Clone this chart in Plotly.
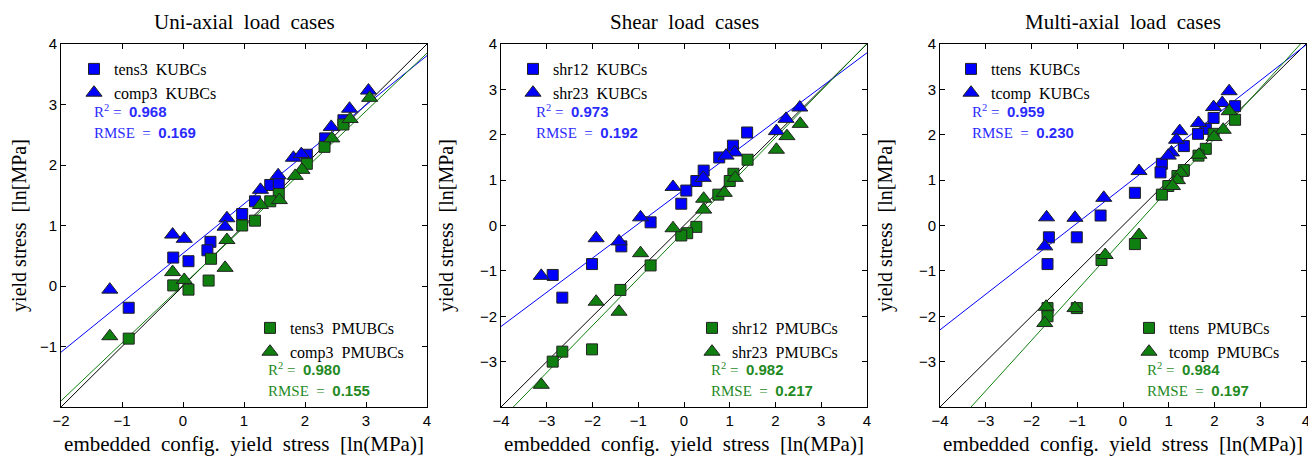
import plotly.graph_objects as go

# ---------------- data ----------------
# Panel 1: Uni-axial load cases
p1_tens3_kubc_x = [2.33, 2.63, 2.03, 1.43, 1.57, 1.18, 0.97, -0.16, 0.09, 0.45, 0.40, -0.89]
p1_tens3_kubc_y = [2.44, 2.74, 2.17, 1.67, 1.70, 1.40, 1.19, 0.47, 0.41, 0.73, 0.59, -0.36]
p1_comp3_kubc_x = [3.04, 2.73, 2.43, 1.81, 1.94, 1.56, 1.27, 0.72, 0.69, -0.17, 0.02, -1.20]
p1_comp3_kubc_y = [3.23, 2.93, 2.63, 2.12, 2.18, 1.83, 1.59, 1.12, 0.98, 0.85, 0.78, -0.06]
p1_tens3_pmubc_x = [2.63, 2.32, 2.03, 1.57, 1.43, 1.18, 0.97, 0.46, 0.42, -0.16, 0.09, -0.89]
p1_tens3_pmubc_y = [2.67, 2.30, 2.02, 1.52, 1.40, 1.08, 1.00, 0.45, 0.09, 0.01, -0.06, -0.87]
p1_comp3_pmubc_x = [3.06, 2.74, 2.44, 1.95, 1.84, 1.58, 1.27, 0.72, 0.69, -0.17, 0.02, -1.20]
p1_comp3_pmubc_y = [3.11, 2.76, 2.44, 1.92, 1.82, 1.42, 1.34, 0.76, 0.30, 0.23, 0.10, -0.83]

# Panel 2: Shear load cases
p2_shr12_kubc_x = [1.38, 1.07, 0.77, 0.43, 0.27, 0.05, -0.06, -0.73, -1.37, -2.01, -2.87, -2.66]
p2_shr12_kubc_y = [2.05, 1.76, 1.50, 1.21, 0.98, 0.77, 0.48, 0.07, -0.46, -0.85, -1.09, -1.59]
p2_shr23_kubc_x = [2.53, 2.23, 2.02, 1.11, 0.92, 0.42, -0.24, -0.95, -1.42, -1.92, -3.12]
p2_shr23_kubc_y = [2.60, 2.35, 2.08, 1.61, 1.54, 1.05, 0.85, 0.18, -0.35, -0.28, -1.11]
p2_shr12_pmubc_x = [1.39, 1.08, 1.00, 0.75, 0.27, 0.07, -0.06, -0.73, -1.39, -2.01, -2.66, -2.87]
p2_shr12_pmubc_y = [1.45, 1.14, 0.98, 0.68, -0.03, -0.17, -0.22, -0.88, -1.42, -2.73, -2.78, -3.00]
p2_shr23_pmubc_x = [2.54, 2.25, 2.02, 1.12, 0.88, 0.43, 0.43, -0.24, -0.95, -1.42, -1.92, -3.12]
p2_shr23_pmubc_y = [2.24, 1.97, 1.67, 1.05, 0.72, 0.59, 0.35, -0.06, -0.61, -1.90, -1.68, -3.51]

# Panel 3: Multi-axial load cases
p3_ttens_kubc_x = [2.45, 1.98, 1.81, 1.64, 1.33, 0.85, 0.82, 0.26, -0.49, -1.62, -1.01, -1.65]
p3_ttens_kubc_y = [2.63, 2.37, 2.13, 2.02, 1.75, 1.36, 1.17, 0.72, 0.22, -0.26, -0.26, -0.85]
p3_tcomp_kubc_x = [2.32, 2.17, 1.98, 1.65, 1.24, 1.17, 1.06, 0.99, 0.35, -0.42, -1.05, -1.67, -1.71]
p3_tcomp_kubc_y = [2.96, 2.70, 2.61, 2.26, 2.08, 1.89, 1.61, 1.54, 1.20, 0.61, 0.17, 0.18, -0.46]
p3_ttens_pmubc_x = [2.45, 1.98, 1.81, 1.65, 1.33, 1.19, 0.99, 0.85, 0.26, -0.47, -1.01, -1.65, -1.65]
p3_ttens_pmubc_y = [2.33, 2.02, 1.69, 1.54, 1.22, 1.09, 0.87, 0.68, -0.41, -0.76, -1.82, -1.82, -2.00]
p3_tcomp_pmubc_x = [2.32, 2.19, 1.99, 1.66, 1.26, 1.19, 1.08, 0.35, -0.39, -1.05, -1.68, -1.71]
p3_tcomp_pmubc_y = [2.52, 2.11, 1.95, 1.56, 1.16, 1.00, 0.87, -0.21, -0.65, -1.82, -1.79, -2.15]

# linear fits (slope, intercept)
fit_kubc = [(0.817, 0.54), (0.754, 0.79), (0.785, 0.84)]
fit_pmubc = [(0.958, 0.017), (1.036, -0.134), (1.111, -0.31)]
stats_kubc = [("0.968", "0.169"), ("0.973", "0.192"), ("0.959", "0.230")]
stats_pmubc = [("0.980", "0.155"), ("0.982", "0.217"), ("0.984", "0.197")]

titles = ["Uni-axial  load  cases", "Shear  load  cases", "Multi-axial  load  cases"]
x_ranges = [(-2, 4), (-4, 4), (-4, 4)]
y_ranges = [(-2, 4), (-4, 4), (-4, 4)]
y_tickvals = [[-1, 0, 1, 2, 3, 4], [-3, -2, -1, 0, 1, 2, 3, 4], [-3, -2, -1, 0, 1, 2, 3, 4]]
names = [("tens3", "comp3"), ("shr12", "shr23"), ("ttens", "tcomp")]

panels = [
    (p1_tens3_kubc_x, p1_tens3_kubc_y, p1_comp3_kubc_x, p1_comp3_kubc_y,
     p1_tens3_pmubc_x, p1_tens3_pmubc_y, p1_comp3_pmubc_x, p1_comp3_pmubc_y),
    (p2_shr12_kubc_x, p2_shr12_kubc_y, p2_shr23_kubc_x, p2_shr23_kubc_y,
     p2_shr12_pmubc_x, p2_shr12_pmubc_y, p2_shr23_pmubc_x, p2_shr23_pmubc_y),
    (p3_ttens_kubc_x, p3_ttens_kubc_y, p3_tcomp_kubc_x, p3_tcomp_kubc_y,
     p3_ttens_pmubc_x, p3_ttens_pmubc_y, p3_tcomp_pmubc_x, p3_tcomp_pmubc_y),
]

# ---------------- style ----------------
PAGE_W, PAGE_H = 1316, 461
OFF = 8                     # default page margin of the html body
W, H = PAGE_W - OFF, PAGE_H - OFF
BLUE = "#0000ff"
GREEN = "#0f800f"
BLUE_TXT = "#2b2bff"
GREEN_TXT = "#1f8a1f"
SERIF = "Liberation Serif"
SANS = "Liberation Sans"

# positions in page pixels
plot_px = [(61, 427), (501, 867), (940, 1306)]
top_px, bot_px = 44, 407
sym_top = [(98, 67), (537, 67), (975, 67)]
sym_bot = [(274, 326), (716, 326), (1153, 326)]
stat_top = [(92, 111), (534, 111), (970, 111)]
stat_bot = [(266, 369), (709, 369), (1145, 369)]


def px_x(v):
    return (v - OFF) / W


def px_y(v):
    return 1 - (v - OFF) / H


fig = go.Figure()

for i in range(3):
    xa = "x" if i == 0 else f"x{i+1}"
    ya = "y" if i == 0 else f"y{i+1}"
    xr, yr = x_ranges[i], y_ranges[i]
    lg_top = "legend" if i == 0 else f"legend{2*i+1}"
    lg_bot = f"legend{2*i+2}"
    ax_x = x_ranges[i]

    # identity line and fits
    fig.add_trace(go.Scatter(x=list(ax_x), y=list(ax_x), mode="lines",
                             line=dict(color="black", width=1), showlegend=False,
                             xaxis=xa, yaxis=ya, hoverinfo="skip"))
    m, b = fit_kubc[i]
    fig.add_trace(go.Scatter(x=list(ax_x), y=[m * v + b for v in ax_x], mode="lines",
                             line=dict(color=BLUE, width=1), showlegend=False,
                             xaxis=xa, yaxis=ya, hoverinfo="skip"))
    m, b = fit_pmubc[i]
    fig.add_trace(go.Scatter(x=list(ax_x), y=[m * v + b for v in ax_x], mode="lines",
                             line=dict(color=GREEN, width=1), showlegend=False,
                             xaxis=xa, yaxis=ya, hoverinfo="skip"))

    d = panels[i]
    n1, n2 = names[i]
    series = [
        (d[0], d[1], BLUE, "square", 11, f"{n1}  KUBCs", lg_top),
        (d[2], d[3], BLUE, "triangle-up", 14, f"{n2}  KUBCs", lg_top),
        (d[4], d[5], GREEN, "square", 11, f"{n1}  PMUBCs", lg_bot),
        (d[6], d[7], GREEN, "triangle-up", 14, f"{n2}  PMUBCs", lg_bot),
    ]
    for sx, sy, col, sym, sz, nm, lg in series:
        fig.add_trace(go.Scatter(x=sx, y=sy, mode="markers", name=nm,
                                 marker=dict(color=col, symbol=sym, size=sz,
                                             line=dict(color="#222222", width=1)),
                                 xaxis=xa, yaxis=ya, legend=lg))

    dom_x = [px_x(plot_px[i][0]), px_x(plot_px[i][1])]
    dom_y = [px_y(bot_px), px_y(top_px)]
    axcommon = dict(showline=True, linecolor="black", linewidth=1, mirror="ticks",
                    ticks="inside", ticklen=5, tickcolor="black", showgrid=False,
                    zeroline=False, automargin=False,
                    tickfont=dict(family=SANS, size=15, color="black"))
    fig.layout[("xaxis" if i == 0 else f"xaxis{i+1}")] = dict(
        domain=dom_x, range=list(xr), anchor=ya, tickmode="array",
        tickvals=list(range(int(xr[0]), int(xr[1]) + 1)),
        title=dict(text="embedded  config.  yield  stress  [ln(MPa)]",
                   font=dict(family=SERIF, size=21, color="black"), standoff=8),
        **axcommon)
    fig.layout[("yaxis" if i == 0 else f"yaxis{i+1}")] = dict(
        domain=dom_y, range=list(yr), anchor=xa, tickmode="array",
        tickvals=y_tickvals[i],
        title=dict(text="yield stress  [ln[MPa]",
                   font=dict(family=SERIF, size=20, color="black"), standoff=20),
        **axcommon)

    # legends
    lfont = dict(family=SERIF, size=16, color="black")
    for lg, (sxp, syp) in ((lg_top, sym_top[i]), (lg_bot, sym_bot[i])):
        fig.layout[lg] = dict(x=px_x(sxp - 24), y=px_y(syp - 15),
                              xanchor="left", yanchor="top", bgcolor="rgba(0,0,0,0)",
                              font=lfont, tracegroupgap=0, itemclick=False)

    # title
    cx = (plot_px[i][0] + plot_px[i][1]) / 2
    fig.add_annotation(x=px_x(cx), y=px_y(22), xref="paper", yref="paper",
                       xanchor="center", yanchor="middle",
                       text=titles[i], showarrow=False,
                       font=dict(family=SERIF, size=21, color="black"))

    # stats
    for (sxp, syp), (r2, rmse), col in ((stat_top[i], stats_kubc[i], BLUE_TXT),
                                        (stat_bot[i], stats_pmubc[i], GREEN_TXT)):
        fig.add_annotation(x=px_x(sxp), y=px_y(syp), xref="paper", yref="paper",
                           xanchor="left", yanchor="middle", showarrow=False,
                           text=f"R<sup>2</sup> =  <span style='font-family:{SANS};font-weight:bold'>{r2}</span>",
                           font=dict(family=SERIF, size=15, color=col))
        fig.add_annotation(x=px_x(sxp), y=px_y(syp + 21), xref="paper", yref="paper",
                           xanchor="left", yanchor="middle", showarrow=False,
                           text=f"RMSE  =  <span style='font-family:{SANS};font-weight:bold'>{rmse}</span>",
                           font=dict(family=SERIF, size=15, color=col))

fig.update_layout(width=W, height=H, margin=dict(l=0, r=0, t=0, b=0),
                  plot_bgcolor="white", paper_bgcolor="white", showlegend=True)

fig.write_html("out.html")
